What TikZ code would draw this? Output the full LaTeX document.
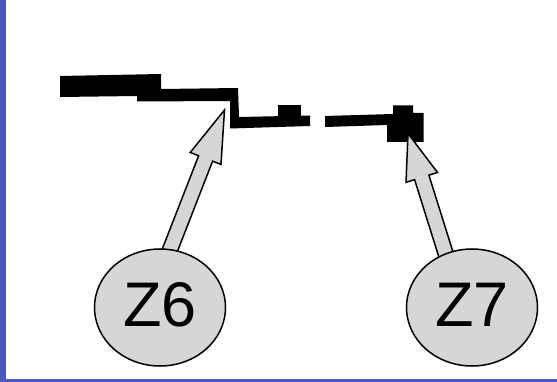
\documentclass[tikz,border=0pt]{standalone}
\usepackage{fontspec}
\setmainfont{Liberation Sans}
\usetikzlibrary{shapes.geometric,calc}
\definecolor{slideBlue}{HTML}{4B57C1}
\definecolor{zoneGray}{HTML}{D6D6D6}
\pgfdeclarelayer{paper}
\pgfdeclarelayer{wires}
\pgfdeclarelayer{pointers}
\pgfsetlayers{paper,wires,pointers,main}

% block arrow from #1 to #2, head length #3
\newcommand{\grayarrow}[3]{%
    \coordinate (tail) at ($(#1)!-8pt!(#2)$);
    \coordinate (base) at ($(#2)!#3!(#1)$);
    \draw[pointer] ($(tail)!7.5pt!90:(#2)$) -- ($(base)!7.5pt!-90:(tail)$)
        -- ($(base)!16.5pt!-90:(tail)$) -- (#2)
        -- ($(base)!16.5pt!90:(tail)$) -- ($(base)!7.5pt!90:(tail)$)
        -- ($(tail)!7.5pt!-90:(#2)$) -- cycle;
}

\begin{document}
\begin{tikzpicture}[
            x=1pt, y=-1pt,
            zone/.style={
                    ellipse,
                    draw=black,
                    line width=1.5pt,
                    fill=zoneGray,
                    minimum width=131pt,
                    minimum height=117pt,
                    inner sep=0pt,
                    text depth=6pt,
                    font=\fontsize{63}{63}\selectfont
                },
            pointer/.style={
                    draw=black,
                    line width=1.5pt,
                    fill=zoneGray,
                    line join=miter
                },
            wire/.style={
                    fill=black
                }
        ]

        \useasboundingbox (0,0) rectangle (557,382);
        \begin{pgfonlayer}{paper}
            \fill[white] (0,0) rectangle (557,382);
            \fill[slideBlue] (0,0) rectangle (5.7,382);
            \fill[slideBlue] (0,378.7) rectangle (557,382);
        \end{pgfonlayer}

        % Wires
        \begin{pgfonlayer}{wires}
            \fill[wire] (60,76) -- (161,74) -- (161,89) -- (238,88) -- (239,117)
                -- (310,115.5) -- (310,126) -- (230,128.5) -- (230,101)
                -- (137,101.5) -- (137,96) -- (60,97) -- cycle;
            \fill[wire] (278,105) rectangle (301,117);
            \fill[wire] (325,116) -- (393,114) -- (393,105.5) -- (413,105.5)
                -- (413,113) -- (423.5,113) -- (423.5,142) -- (387,142)
                -- (387,125) -- (325,127) -- cycle;
        \end{pgfonlayer}

        % Zones
        \node[zone] (z6) at (160,307.5) {Z6};
        \node[zone] (z7) at (472,307.5) {Z7};

        \coordinate (z6tip) at (224.5,110);
        \coordinate (z7tip) at (408,133.5);

        % Pointers
        \begin{pgfonlayer}{pointers}
            \grayarrow{z6.80}{z6tip}{52pt}
            \grayarrow{z7.116}{z7tip}{46pt}
        \end{pgfonlayer}

    \end{tikzpicture}
\end{document}
